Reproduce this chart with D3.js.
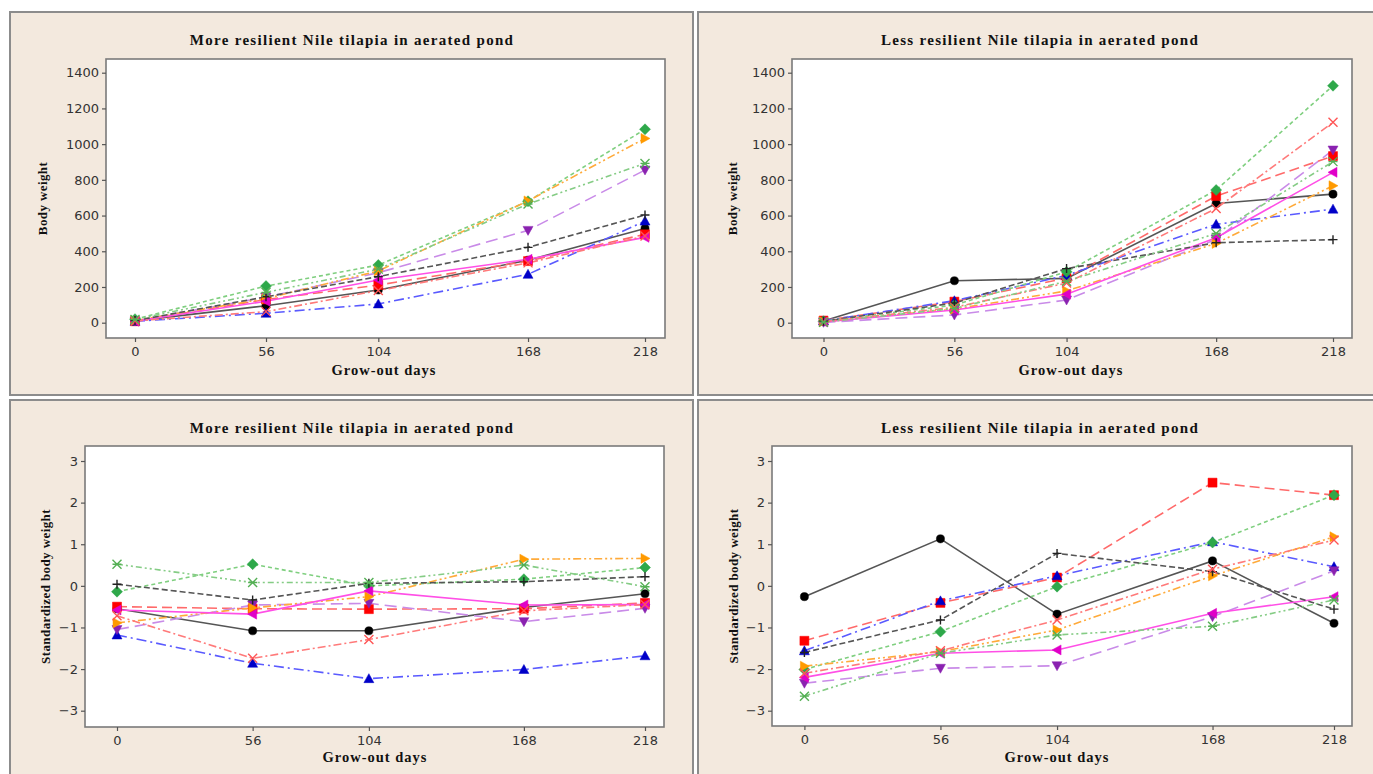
<!DOCTYPE html>
<html>
<head>
<meta charset="utf-8">
<script src="https://cdn.jsdelivr.net/npm/d3@7"></script>
<style>
  html, body { margin: 0; padding: 0; background: #ffffff; }
  svg { display: block; }
</style>
</head>
<body>
<svg id="chart" width="1373" height="774"></svg>
<script>
// ---------------- DATA ----------------
const days = [0, 56, 104, 168, 218];
const dayTicks = [0, 56, 104, 168, 218];
const weightTicks = [0, 200, 400, 600, 800, 1000, 1200, 1400];
const stdTicks = [-3, -2, -1, 0, 1, 2, 3];

const titleMore = "More resilient Nile tilapia in aerated pond";
const titleLess = "Less resilient Nile tilapia in aerated pond";
const xLabel = "Grow-out days";
const yLabelWeight = "Body weight";
const yLabelStd = "Standardized body weight";

// series order: circle, square, triangle, diamond, triangle-down, triangle-right,
// triangle-left, plus, cross, asterisk
const seriesIds = ["S1", "S2", "S3", "S4", "S5", "S6", "S7", "S8", "S9", "S10"];

// Body weight, more resilient (rows = series, cols = days)
const moreWeight = [
  [10, 95, 183, 350, 528],
  [8, 130, 211, 345, 495],
  [8, 53, 105, 271, 569],
  [20, 205, 323, 680, 1083],
  [10, 143, 280, 517, 855],
  [12, 135, 290, 682, 1032],
  [8, 120, 239, 355, 478],
  [12, 145, 258, 422, 603],
  [10, 62, 180, 335, 485],
  [18, 170, 300, 665, 892]
];

// Body weight, less resilient
const lessWeight = [
  [10, 235, 248, 668, 720],
  [12, 118, 250, 709, 933],
  [10, 123, 265, 551, 636],
  [8, 99, 285, 743, 1327],
  [2, 43, 127, 467, 967],
  [6, 76, 178, 444, 767],
  [4, 71, 160, 476, 842],
  [8, 110, 303, 448, 465],
  [6, 86, 222, 640, 1122],
  [3, 80, 232, 500, 902]
];

// Standardized body weight, more resilient
const moreStd = [
  [-0.55, -1.08, -1.08, -0.52, -0.19],
  [-0.50, -0.55, -0.56, -0.55, -0.41],
  [-1.18, -1.86, -2.23, -2.01, -1.68],
  [-0.14, 0.52, 0.00, 0.16, 0.44],
  [-1.05, -0.46, -0.42, -0.86, -0.54],
  [-0.89, -0.53, -0.26, 0.64, 0.66],
  [-0.58, -0.68, -0.12, -0.46, -0.45],
  [0.04, -0.34, 0.06, 0.10, 0.22],
  [-0.72, -1.74, -1.29, -0.60, -0.45],
  [0.52, 0.08, 0.08, 0.50, -0.02]
];

// Standardized body weight, less resilient
const lessStd = [
  [-0.26, 1.13, -0.68, 0.60, -0.90],
  [-1.32, -0.41, 0.20, 2.48, 2.18],
  [-1.56, -0.36, 0.24, 1.06, 0.46],
  [-2.01, -1.10, -0.02, 1.04, 2.18],
  [-2.34, -1.98, -1.92, -0.74, 0.36],
  [-1.93, -1.58, -1.06, 0.24, 1.18],
  [-2.20, -1.62, -1.54, -0.66, -0.26],
  [-1.60, -0.82, 0.78, 0.34, -0.56],
  [-2.10, -1.56, -0.82, 0.40, 1.10],
  [-2.65, -1.62, -1.18, -0.97, -0.34]
];

// ---------------- STYLES ----------------
const lineColors = ["#555555", "#ff6a6a", "#5a5aff", "#7fcf7f", "#c98be8", "#ffaa3a", "#ff4fe6", "#555555", "#ff7a7a", "#85cc85"];
const markColors = ["#000000", "#ff0000", "#0000c8", "#2ea84a", "#8a22b0", "#ff9a00", "#e000c8", "#222222", "#ff5555", "#55b055"];
const dashes = ["", "10,5", "10,4,2,4", "4,3", "12,6", "8,3,2,3,2,3", "", "6,3", "8,3,2,3", "6,3,2,3,2,3"];
const shapes = ["circle", "square", "tri", "diamond", "triDown", "triRight", "triLeft", "plus", "cross", "asterisk"];

function shapePath(s) {
  const r = 4.5;
  switch (s) {
    case "circle": return d3.symbol().type(d3.symbolCircle).size(52)();
    case "square": return `M${-r},${-r}H${r}V${r}H${-r}Z`;
    case "tri": return `M0,${-r - 0.5}L${r + 0.5},${r - 0.5}L${-r - 0.5},${r - 0.5}Z`;
    case "triDown": return `M0,${r + 0.5}L${r + 0.5},${-r + 0.5}L${-r - 0.5},${-r + 0.5}Z`;
    case "triRight": return `M${r + 0.5},0L${-r + 0.5},${r + 0.5}L${-r + 0.5},${-r - 0.5}Z`;
    case "triLeft": return `M${-r - 0.5},0L${r - 0.5},${r + 0.5}L${r - 0.5},${-r - 0.5}Z`;
    case "diamond": return `M0,${-r - 1}L${r + 1},0L0,${r + 1}L${-r - 1},0Z`;
    case "plus": return `M${-r},0H${r}M0,${-r}V${r}`;
    case "cross": return `M${-r},${-r}L${r},${r}M${-r},${r}L${r},${-r}`;
    case "asterisk": return `M${-r},${-r}L${r},${r}M${-r},${r}L${r},${-r}M${-r},0H${r}`;
  }
}
const strokeShapes = new Set(["plus", "cross", "asterisk"]);

// ---------------- LAYOUT ----------------
const panels = [
  { data: moreWeight, yTicks: weightTicks, yDom: [0, 1400], yRange: [322.7, 72.7],
    title: titleMore, yLabel: yLabelWeight,
    frame: [10, 12, 683, 383], plot: [106, 59, 665, 338], xRange: [135, 645],
    titleX: 352, titleY: 45, xLabX: 384, xLabY: 375, yLabX: 42 },
  { data: lessWeight, yTicks: weightTicks, yDom: [0, 1400], yRange: [322.7, 72.7],
    title: titleLess, yLabel: yLabelWeight,
    frame: [698, 12, 690, 383], plot: [792, 59, 1352, 338], xRange: [823.5, 1333],
    titleX: 1040, titleY: 45, xLabX: 1071, xLabY: 375, yLabX: 732 },
  { data: moreStd, yTicks: stdTicks, yDom: [-3, 3], yRange: [710.7, 461],
    title: titleMore, yLabel: yLabelStd,
    frame: [10, 400, 683, 390], plot: [85, 446, 664, 727], xRange: [117, 645],
    titleX: 352, titleY: 433, xLabX: 375, xLabY: 762, yLabX: 45 },
  { data: lessStd, yTicks: stdTicks, yDom: [-3, 3], yRange: [710.7, 461],
    title: titleLess, yLabel: yLabelStd,
    frame: [698, 400, 690, 390], plot: [772, 446, 1352, 726], xRange: [804.4, 1334],
    titleX: 1040, titleY: 433, xLabX: 1057, xLabY: 762, yLabX: 733 }
];

const svg = d3.select("#chart");
svg.append("rect").attr("width", 1373).attr("height", 774).attr("fill", "#ffffff");

const serif = "'Liberation Serif', 'Times New Roman', serif";
const sans = "'DejaVu Sans', Verdana, sans-serif";

panels.forEach(p => {
  const g = svg.append("g");
  const [fx, fy, fw, fh] = p.frame;
  g.append("rect").attr("x", fx).attr("y", fy).attr("width", fw).attr("height", fh)
    .attr("fill", "#f3e9de").attr("stroke", "#8c8c8c").attr("stroke-width", 2);

  const [px0, py0, px1, py1] = p.plot;
  g.append("rect").attr("x", px0).attr("y", py0).attr("width", px1 - px0).attr("height", py1 - py0)
    .attr("fill", "#ffffff").attr("stroke", "#7a7a7a").attr("stroke-width", 1.6);

  const x = d3.scaleLinear().domain([0, 218]).range(p.xRange);
  const y = d3.scaleLinear().domain(p.yDom).range(p.yRange);

  // axes
  const yAxis = d3.axisLeft(y).tickValues(p.yTicks).tickSize(4).tickPadding(3).tickFormat(d3.format("d"));
  const ya = g.append("g").attr("transform", `translate(${px0},0)`).call(yAxis);
  const xAxis = d3.axisBottom(x).tickValues(dayTicks).tickSize(4).tickPadding(5).tickFormat(d3.format("d"));
  const xa = g.append("g").attr("transform", `translate(0,${py1})`).call(xAxis);
  [ya, xa].forEach(a => {
    a.select(".domain").remove();
    a.selectAll(".tick line").attr("stroke", "#555").attr("stroke-width", 1.2);
    a.selectAll(".tick text").attr("fill", "#333").style("font-family", sans).style("font-size", "13px");
  });

  // title & labels
  g.append("text").attr("x", p.titleX).attr("y", p.titleY).attr("text-anchor", "middle")
    .style("font-family", serif).style("font-weight", "bold").style("font-size", "15px")
    .style("letter-spacing", "1.3px").attr("fill", "#111").text(p.title);
  g.append("text").attr("x", p.xLabX).attr("y", p.xLabY).attr("text-anchor", "middle")
    .style("font-family", serif).style("font-weight", "bold").style("font-size", "14.5px")
    .style("letter-spacing", "1px").attr("fill", "#111").text(xLabel);
  const cy = (py0 + py1) / 2;
  g.append("text").attr("transform", `translate(${p.yLabX},${cy}) rotate(-90)`).attr("text-anchor", "middle")
    .attr("dy", "0.35em")
    .style("font-family", serif).style("font-weight", "bold").style("font-size", "13px")
    .style("letter-spacing", "0.4px").attr("fill", "#111").text(p.yLabel);

  const line = d3.line().x((d, i) => x(days[i])).y(d => y(d));

  // lines
  p.data.forEach((vals, si) => {
    g.append("path").datum(vals).attr("d", line).attr("fill", "none")
      .attr("stroke", lineColors[si]).attr("stroke-width", 1.6)
      .attr("stroke-dasharray", dashes[si] || null);
  });
  // markers
  p.data.forEach((vals, si) => {
    const sh = shapes[si];
    g.selectAll(null).data(vals).enter().append("path")
      .attr("transform", (d, i) => `translate(${x(days[i])},${y(d)})`)
      .attr("d", shapePath(sh))
      .attr("fill", strokeShapes.has(sh) ? "none" : markColors[si])
      .attr("stroke", markColors[si])
      .attr("stroke-width", strokeShapes.has(sh) ? 1.4 : 0.5);
  });
});
</script>
</body>
</html>
